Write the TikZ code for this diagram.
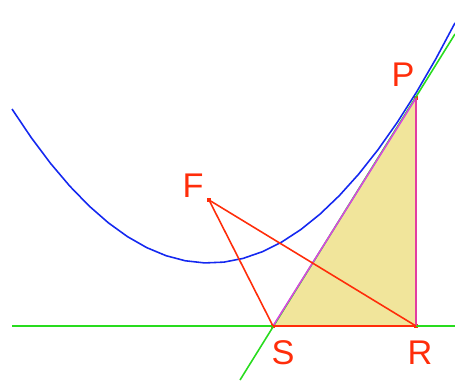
\documentclass[tikz,border=0pt]{standalone}
\usepackage{fontspec}
\setmainfont{Liberation Sans}
\usetikzlibrary{positioning}
\definecolor{ptred}{RGB}{255,45,10}
\definecolor{curveblue}{RGB}{20,40,240}
\definecolor{linegreen}{RGB}{40,220,30}
\definecolor{tangmag}{RGB}{215,70,225}
\definecolor{trifill}{RGB}{241,229,155}

\begin{document}
\begin{tikzpicture}[
x=0.02cm,
y=-0.02cm,
line width=0.9pt,
pt/.style={
fill=ptred,
inner sep=0pt,
minimum size=2.5pt
},
lbl/.style={
text=ptred,
font=\fontsize{19.5}{19.5}\selectfont
}
]
\useasboundingbox (0,0) rectangle (455,380);

\node[pt] (F) at (209,200) {};
\node[pt] (P) at (416,98) {};
\node[pt] (S) at (273,326) {};
\node[pt] (R) at (416,326) {};
\coordinate (dl) at (12,326);
\coordinate (dr) at (455,326);
\coordinate (tl) at (240,380);
\coordinate (tr) at (455,34);

\fill[trifill] (S.center) -- (R.center) -- (P.center) -- cycle;

\draw[linegreen] (dl) -- (dr);
\draw[curveblue] plot[domain=12:455,samples=24] (\x,{263-((\x-209)/15.875)^2});
\draw[linegreen] (tl) -- (tr);

\draw[tangmag] (S.center) -- (P.center);
\draw[tangmag!70!ptred] (P.center) -- (R.center);
\draw[ptred] (S.center) -- (R.center);
\draw[ptred] (F.center) -- (S.center);
\draw[ptred] (F.center) -- (R.center);

\node[lbl] (Fl) at (193,186) {F};
\node[lbl] (Pl) at (403,75) {P};
\node[lbl] (Sl) at (283,353) {S};
\node[lbl] (Rl) at (420,353) {R};

\end{tikzpicture}
\end{document}
